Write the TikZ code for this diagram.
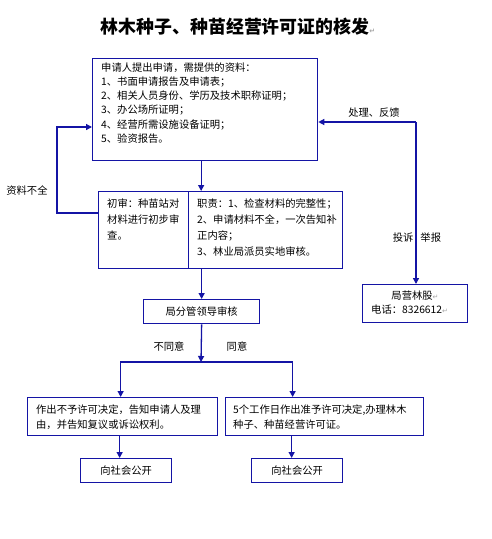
\documentclass[tikz,border=0pt]{standalone}
\usepackage{fontspec}
\setmainfont{Liberation Serif}
\newfontfamily\cjk{Noto Sans CJK SC}
\newfontfamily\dvs{DejaVu Sans}
\usetikzlibrary{arrows.meta,calc}
\definecolor{navy}{RGB}{20,20,165}
\newcommand\retm{{\dvs\color{gray!70}\fontsize{7}{7}\selectfont ↵}}
\begin{document}
\begin{tikzpicture}[x=1pt,y=-1pt,
  bx/.style={draw=navy, line width=1.3pt, inner sep=0pt, anchor=north west},
  arr/.style={draw=navy, line width=1.3pt, -{Triangle[length=6pt,width=6pt]}},
  tx/.style={font=\cjk\fontsize{10.3}{14}\selectfont, inner sep=0pt, text=black},
  ttl/.style={font=\cjk\bfseries\fontsize{17.9}{20}\selectfont, inner sep=0pt}]
\fill[white] (0,0) rectangle (491,539);
\useasboundingbox (0,0) rectangle (491,539);

% title
\node[ttl] (title) at (238,27) {林木种子、种苗经营许可证的核发\retm};

% boxes
\node[bx, minimum width=225pt, minimum height=102pt] (app) at (92,58) {};
\node[bx, minimum width=90pt, minimum height=77pt] (cellL) at (98,191) {};
\node[bx, minimum width=154pt, minimum height=77pt] (cellR) at (188,191) {};
\node[bx, minimum width=116pt, minimum height=24pt] (review) at (143,299) {};
\node[bx, minimum width=105pt, minimum height=38pt] (phone) at (362,284) {};
\node[bx, minimum width=190pt, minimum height=38pt] (no) at (27,397) {};
\node[bx, minimum width=198pt, minimum height=38pt] (yes) at (225,397) {};
\node[bx, minimum width=91pt, minimum height=24pt] (pub1) at (80,458) {};
\node[bx, minimum width=91pt, minimum height=24pt] (pub2) at (251,458) {};

% box texts
\node[tx, anchor=base west] (tapp) at (101,71) {\parbox[t]{215pt}{\fontsize{10.3}{14.3}\selectfont
申请人提出申请，需提供的资料：\\
1、书面申请报告及申请表；\\
2、相关人员身份、学历及技术职称证明；\\
3、办公场所证明；\\
4、经营所需设施设备证明；\\
5、验资报告。}};
\node[tx, anchor=base west] (tcl) at (107,207) {\parbox[t]{80pt}{\fontsize{10.3}{16}\selectfont
初审：种苗站对\\
材料进行初步审\\
查。}};
\node[tx, anchor=base west] (tcr) at (197,207) {\parbox[t]{150pt}{\fontsize{10.3}{16.2}\selectfont
职责：1、检查材料的完整性；\\
2、申请材料不全，一次告知补\\
正内容；\\
3、林业局派员实地审核。}};
\node[tx] (treview) at (review.center) {局分管领导审核};
\node[tx] (tph1) at (415,296) {局营林股\retm};
\node[tx, anchor=west] (tph2) at (371,309.5) {电话：8326612\retm};
\node[tx, anchor=base west] (tno) at (36,413) {\parbox[t]{185pt}{\fontsize{10.3}{15}\selectfont
作出不予许可决定，告知申请人及理\\
由，并告知复议或诉讼权利。}};
\node[tx, anchor=base west] (tyes) at (233,413) {\parbox[t]{190pt}{\fontsize{10.3}{15}\selectfont
5个工作日作出准予许可决定,办理林木\\
种子、种苗经营许可证。}};
\node[tx] (tpub1) at (pub1.center) {向社会公开};
\node[tx] (tpub2) at (pub2.center) {向社会公开};

% labels
\node[tx] (lmiss) at (27,191) {资料不全};
\node[tx] (lfb) at (374,113) {处理、反馈};
\node[tx] (lcomp) at (417,238) {投诉\hspace{7pt}举报};
\node[tx] (lnot) at (169,347) {不同意};
\node[tx] (lok) at (237,347) {同意};

% connectors
\draw[arr] ([xshift=-4pt]app.south) -- ([xshift=-4pt]app.south |- cellR.north);
\draw[arr] ([yshift=-22pt]cellL.north west) -- ++(-41,0) |- ([yshift=-69pt]app.north west);
\coordinate (corner) at (416,122);
\draw[arr] (corner) -- (corner -| app.east);
\draw[arr] (corner) -- (corner |- phone.north);
\draw[arr] (review.north |- cellR.south) -- (review.north);
\coordinate (split) at (201,362);
\draw[arr] (review.south) -- (split);
\draw[arr] (split) -| ([xshift=-2pt]no.north);
\draw[arr] (split) -| ([xshift=-32pt]yes.north);
\draw[arr] ([xshift=-3pt]no.south) -- ([xshift=-3pt]no.south |- pub1.north);
\draw[arr] ([xshift=-33pt]yes.south) -- ([xshift=-33pt]yes.south |- pub2.north);
\end{tikzpicture}
\end{document}
